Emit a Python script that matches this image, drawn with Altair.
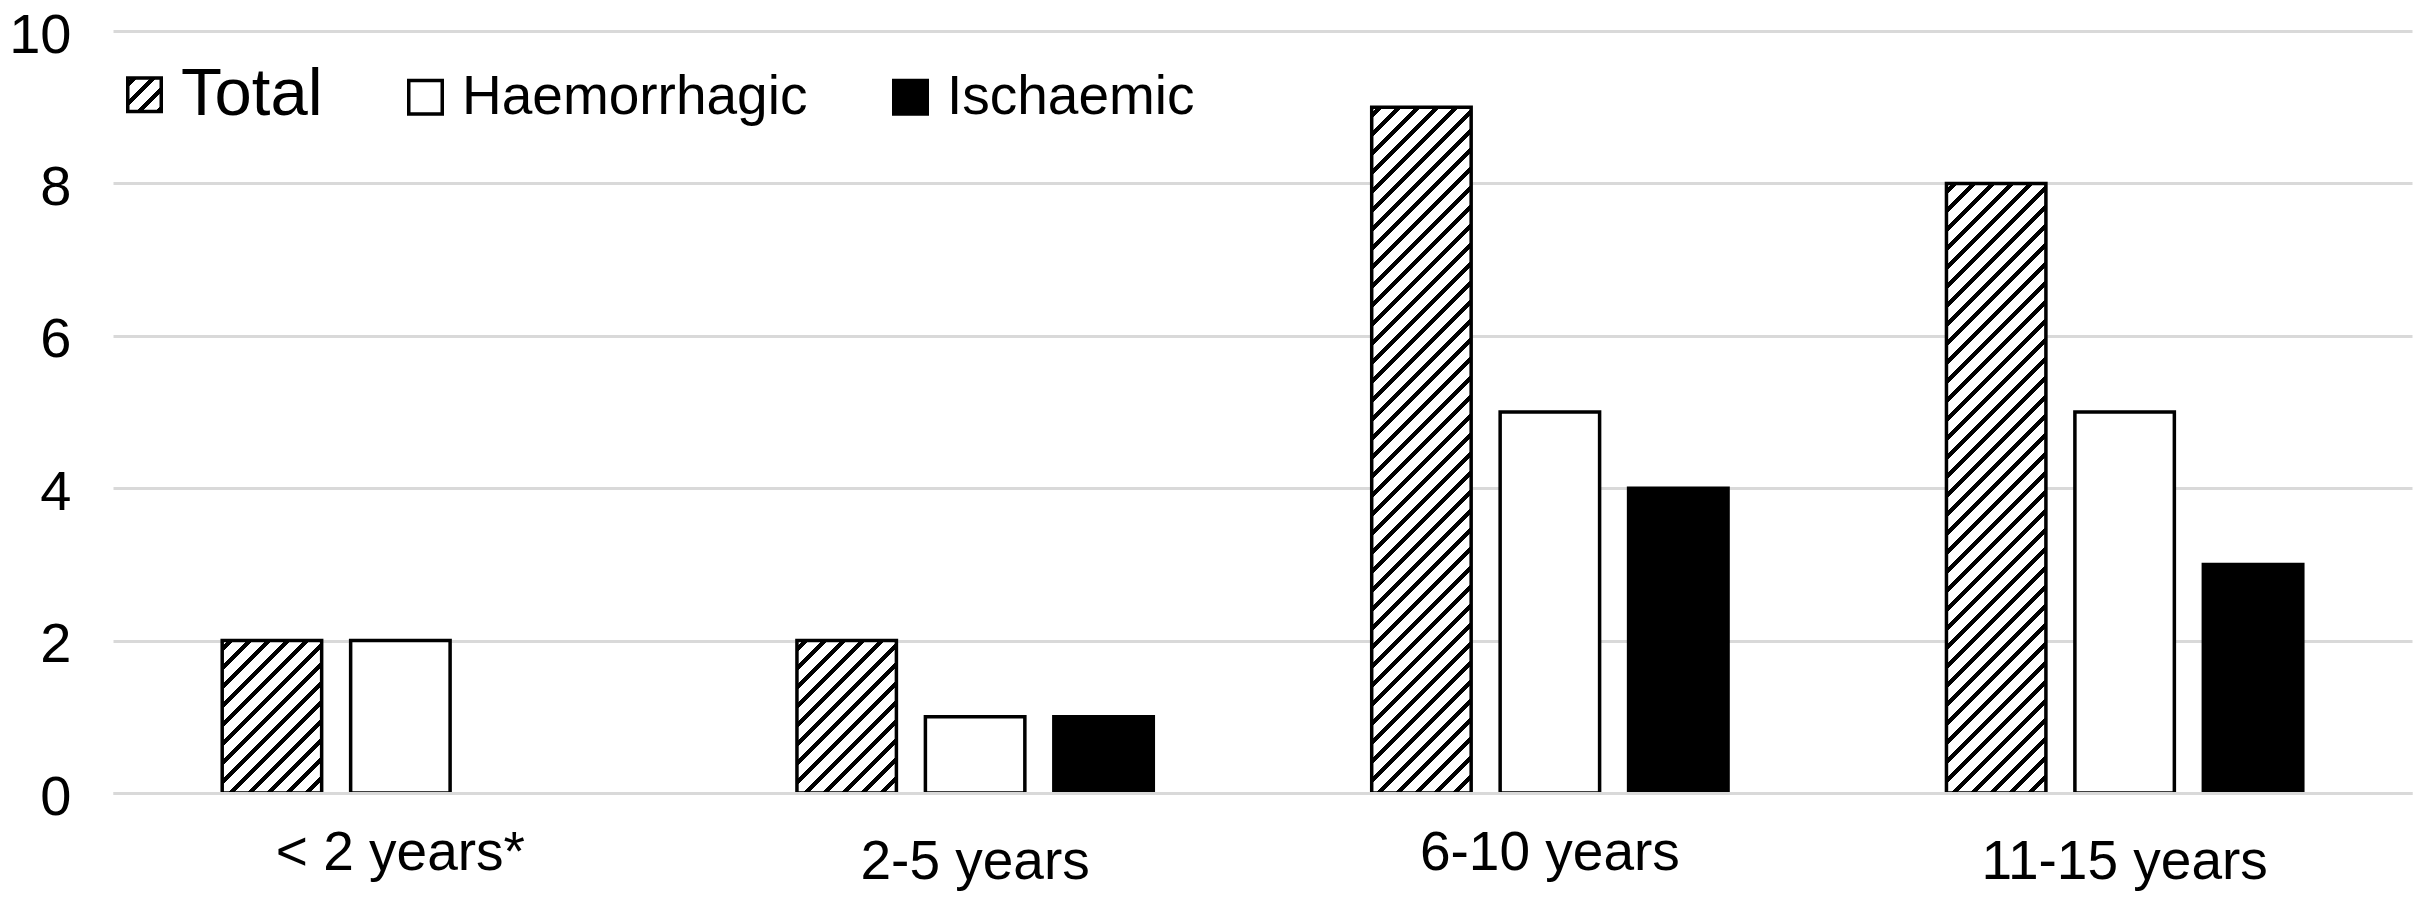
import altair as alt
import pandas as pd

# ---------------- data ----------------
categories = ["< 2 years*", "2-5 years", "6-10 years", "11-15 years"]
series = ["Total", "Haemorrhagic", "Ischaemic"]
total = [2, 2, 9, 8]
haemorrhagic = [2, 1, 5, 5]
ischaemic = [0, 1, 4, 3]
y_ticks = [0, 2, 4, 6, 8, 10]

rows = []
for i, c in enumerate(categories):
    for s, vals in zip(series, [total, haemorrhagic, ischaemic]):
        rows.append({"age": c, "type": s, "count": vals[i]})
df = pd.DataFrame(rows)

# ---------------- layout / style ----------------
PLOT_W, PLOT_H = 2299, 762
Y_MAX = 10
X_PAD_INNER, X_PAD_OUTER = 0.38, 0.19
OFF_PAD = 0.2257
STROKE = 3.5
FONT = "Liberation Sans"
GRID = "#d9d9d9"

step = PLOT_W / (len(categories) - X_PAD_INNER + 2 * X_PAD_OUTER)
band = step * (1 - X_PAD_INNER)
off_step = band / (len(series) - OFF_PAD)
bar_w = off_step * (1 - OFF_PAD)

HATCH_PERIOD = 19.0
HATCH_LINE = 5.5


def hatch(w, h, phase=6.0):
    s = w + h
    stops = [(0.0, "white")]
    pos = phase
    while pos < s:
        a = round(pos / s, 5)
        b = round(min((pos + HATCH_LINE) / s, 1.0), 5)
        stops += [(a, "white"), (a, "black"), (b, "black"), (b, "white")]
        pos += HATCH_PERIOD
    stops.append((1.0, "white"))
    x2 = w * s / (w * w + h * h)
    y2 = h * s / (w * w + h * h)
    return stops, round(x2, 5), round(y2, 5)


def hatch_gradient(w, h):
    stops, x2, y2 = hatch(w, h)
    return alt.LinearGradient(
        gradient="linear",
        stops=[alt.GradientStop(offset=o, color=c) for o, c in stops],
        x1=0, y1=0, x2=x2, y2=y2,
    )


def hatch_expr(w, h):
    stops, x2, y2 = hatch(w, h, phase=4.0)
    st = ",".join("{offset:%s,color:'%s'}" % (o, c) for o, c in stops)
    return "{gradient:'linear',x1:0,y1:0,x2:%s,y2:%s,stops:[%s]}" % (x2, y2, st)


SYM_SIDE = 33.5
legend_total_fill = alt.ExprRef(expr=hatch_expr(SYM_SIDE, SYM_SIDE))

x_axis = alt.Axis(
    title=None, labelAngle=0, labelFont=FONT, labelFontSize=55, labelColor="black",
    labelLimit=1000, ticks=False, tickSize=0, domain=True, domainColor=GRID,
    domainWidth=3, grid=False, zindex=1,
    labelPadding={"condition": {"test": "datum.value === '< 2 years*' || datum.value === '6-10 years'",
                                "value": 33}, "value": 42},
)
y_axis = alt.Axis(
    title=None, values=y_ticks, labelFont=FONT, labelFontSize=56, labelColor="black",
    labelPadding=42, labelOffset=4, ticks=False, tickSize=0, domain=False,
    grid=True, gridColor=GRID, gridWidth=3,
)

base = alt.Chart(df).encode(
    x=alt.X("age:N", sort=categories,
            scale=alt.Scale(domain=categories, paddingInner=X_PAD_INNER, paddingOuter=X_PAD_OUTER),
            axis=x_axis),
    xOffset=alt.XOffset("type:N", sort=series,
                        scale=alt.Scale(domain=series, paddingInner=OFF_PAD, paddingOuter=0)),
    y=alt.Y("count:Q", scale=alt.Scale(domain=[0, Y_MAX], nice=False), axis=y_axis),
)

legend = alt.Legend(
    title=None, orient="none", legendX=4, legendY=36, direction="horizontal",
    symbolType="square", symbolSize=SYM_SIDE * SYM_SIDE, symbolStrokeColor="black",
    symbolStrokeWidth=STROKE, symbolOpacity=1, labelFont=FONT,
    labelFontSize=alt.ExprRef(expr="datum.label === 'Total' ? 67 : 55"),
    labelColor="black", labelLimit=2000, labelOffset=9, columnPadding=75, padding=0,
)

plain = base.transform_filter("datum.type !== 'Total' && datum.count > 0").mark_bar(
    stroke="black", strokeWidth=STROKE
).encode(
    fill=alt.Fill("type:N", sort=series,
                  scale=alt.Scale(domain=series, range=[legend_total_fill, "white", "black"]),
                  legend=legend)
)

layers = [plain]
for i, c in enumerate(categories):
    h = total[i] * PLOT_H / Y_MAX
    layers.append(
        base.transform_filter(f"datum.type === 'Total' && datum.age === '{c}'").mark_bar(
            fill=hatch_gradient(bar_w, h), stroke="black", strokeWidth=STROKE
        )
    )

chart = alt.layer(*layers).properties(
    width=PLOT_W, height=PLOT_H,
    padding={"left": 105, "top": 23, "right": 4, "bottom": 99},
    autosize=alt.AutoSizeParams(type="none"),
    background="white",
).configure_view(stroke=None)

chart.save("out.html", embed_options={"renderer": "svg", "actions": False})
